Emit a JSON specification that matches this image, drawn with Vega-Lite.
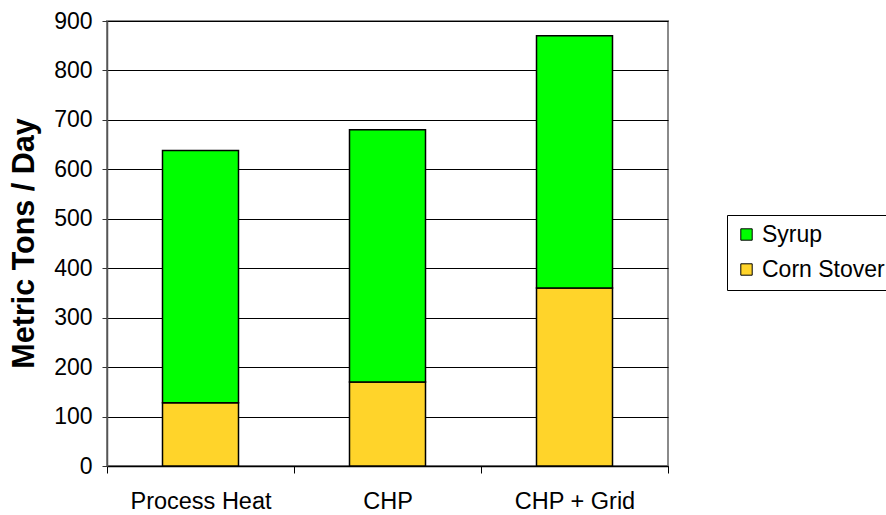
{
  "$schema": "https://vega.github.io/schema/vega-lite/v6.json",
  "width": 561,
  "height": 445,
  "autosize": {"type": "none"},
  "padding": {"left": 107, "top": 21, "right": 218, "bottom": 49},
  "background": "white",
  "config": {
    "font": "Liberation Sans",
    "view": {"stroke": "#8a8a8a", "strokeWidth": 2}
  },
  "data": {
    "values": [
      {"setup": "Process Heat", "feedstock": "Corn Stover", "tons": 128, "rank": 1},
      {"setup": "Process Heat", "feedstock": "Syrup", "tons": 510, "rank": 2},
      {"setup": "CHP", "feedstock": "Corn Stover", "tons": 170, "rank": 1},
      {"setup": "CHP", "feedstock": "Syrup", "tons": 510, "rank": 2},
      {"setup": "CHP + Grid", "feedstock": "Corn Stover", "tons": 360, "rank": 1},
      {"setup": "CHP + Grid", "feedstock": "Syrup", "tons": 510, "rank": 2}
    ]
  },
  "mark": {"type": "bar", "width": 76, "stroke": "black", "strokeWidth": 1.5},
  "encoding": {
    "x": {
      "field": "setup",
      "type": "nominal",
      "sort": ["Process Heat", "CHP", "CHP + Grid"],
      "scale": {"paddingInner": 0, "paddingOuter": 0},
      "axis": {
        "title": null,
        "labelAngle": 0,
        "tickBand": "extent",
        "domainColor": "black",
        "domainWidth": 1.5,
        "tickColor": "black",
        "tickSize": 7,
        "labelFontSize": 23.5,
        "labelColor": "black",
        "labelPadding": 16
      }
    },
    "y": {
      "field": "tons",
      "type": "quantitative",
      "stack": "zero",
      "scale": {"domain": [0, 900], "nice": false},
      "axis": {
        "values": [0, 100, 200, 300, 400, 500, 600, 700, 800, 900],
        "grid": true,
        "gridColor": "black",
        "gridWidth": 1,
        "gridOpacity": 1,
        "domainColor": "#555555",
        "domainWidth": 1.5,
        "tickColor": "#333333",
        "tickSize": 5,
        "labelFontSize": 23,
        "labelColor": "black",
        "labelPadding": 10,
        "title": "Metric Tons / Day",
        "titleFontSize": 30.5,
        "titleFontWeight": "bold",
        "titleColor": "black",
        "titleAngle": -90,
        "titleX": -83,
        "titleY": 222,
        "titleAlign": "center",
        "titleBaseline": "middle"
      }
    },
    "color": {
      "field": "feedstock",
      "type": "nominal",
      "scale": {"domain": ["Syrup", "Corn Stover"], "range": ["#00FF00", "#FFD42A"]},
      "legend": {
        "title": null,
        "orient": "none",
        "legendX": 620,
        "legendY": 194,
        "strokeColor": "black",
        "fillColor": "white",
        "padding": 8,
        "symbolType": "square",
        "symbolSize": 130,
        "symbolStrokeColor": "black",
        "symbolStrokeWidth": 1,
        "symbolOpacity": 1,
        "labelFontSize": 23,
        "labelColor": "black",
        "labelLimit": 300,
        "labelOffset": 4,
        "rowPadding": 11
      }
    },
    "order": {"field": "rank", "type": "quantitative"}
  }
}
